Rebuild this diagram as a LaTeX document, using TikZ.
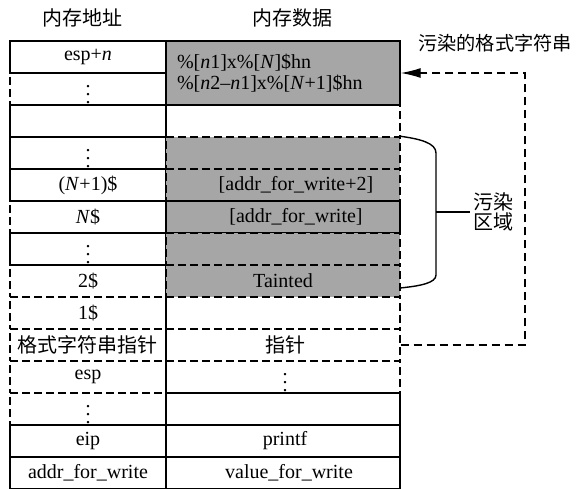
\documentclass[tikz,border=0pt]{standalone}
\usepackage{fontspec}
\setmainfont{Liberation Serif}
\newfontfamily\cjk{Noto Sans CJK SC}
\usetikzlibrary{arrows.meta}

\begin{document}
\begin{tikzpicture}[
    x=0.5pt, y=0.5pt,
    addr/.style={draw, line width=0.7pt, minimum width=78pt, minimum height=16pt, inner sep=0pt},
    data/.style={draw, line width=0.7pt, minimum width=117pt, minimum height=16pt, inner sep=0pt},
    broken/.style={dash pattern=on 4pt off 2pt},
    taint/.style={fill=black!35},
    link/.style={line width=0.7pt, dash pattern=on 4pt off 2.5pt, -{Latex[length=10pt, width=5pt]}}
]
\useasboundingbox (0, 0) rectangle (577, 488);

% Headers
\node[font=\cjk] (haddr) at (82, 470) {内存地址};
\node[font=\cjk] (hdata) at (292, 470) {内存数据};
\node[font=\cjk\fontsize{9.6pt}{12pt}\selectfont] (title) at (495, 445) {污染的格式字符串};

% Address column
\node[addr] (a0) at (88, 431) {esp+\textit{n}};
\node[addr, broken] (a1) at (88, 399) {$\vdots$};
\node[addr] (a2) at (88, 367) {};
\node[addr] (a3) at (88, 335) {$\vdots$};
\node[addr] (a4) at (88, 303) {(\textit{N}+1)\$};
\node[addr, broken] (a5) at (88, 271) {\textit{N}\$};
\node[addr] (a6) at (88, 239) {$\vdots$};
\node[addr, broken] (a7) at (88, 207) {2\$};
\node[addr, broken] (a8) at (88, 175) {1\$};
\node[addr, broken, font=\cjk] (a9) at (88, 143) {格式字符串指针};
\node[addr, broken] (a10) at (88, 111) {esp};
\node[addr, broken] (a11) at (88, 79) {$\vdots$};
\node[addr] (a12) at (88, 47) {eip};
\node[addr] (a13) at (88, 15) {addr\_for\_write};

% Data column
\node[data, taint, minimum height=32pt, align=left, inner xsep=5.5pt, text width=106pt] (d0) at (283, 415)
    {\%[\textit{n}1]x\%[\textit{N}]\$hn\\[-1.5pt]\%[\textit{n}2--\textit{n}1]x\%[\textit{N}+1]\$hn};
\node[data, broken] (d2) at (283, 367) {};
\node[data, broken, taint] (d3) at (283, 335) {};
\node[data, broken, taint] (d4) at (283, 303) {\hspace*{13pt}[addr\_for\_write+2]};
\node[data, taint] (d5) at (283, 271) {\hspace*{13pt}[addr\_for\_write]};
\node[data, broken, taint] (d6) at (283, 239) {};
\node[data, broken, taint] (d7) at (283, 207) {Tainted};
\node[data, broken] (d8) at (283, 175) {};
\node[data, broken, font=\cjk] (d9) at (283, 143) {\hspace*{2pt}指针};
\node[data, broken] (d10) at (283, 111) {\hspace*{2pt}$\vdots$};
\node[data] (d11) at (283, 79) {};
\node[data] (d12) at (283, 47) {\hspace*{2pt}printf};
\node[data] (d13) at (283, 15) {\hspace*{6pt}value\_for\_write};

% Tainted region
\node[font=\cjk, align=center, inner sep=1.5pt] (region) at (493, 276) {污染\\[-2pt]区域};
\coordinate (brace) at (436, 276);
\draw[line width=0.7pt] (d3.north east) .. controls (420, 349) and (436, 345) .. (436, 335)
    -- (436, 213) .. controls (436, 205) and (420, 202) .. (400, 200);
\draw[line width=0.7pt] (brace) -- (region.west);

% Pointer back to the format string
\coordinate (turn) at (525, 143);
\draw[link] (d9.east) -- (turn) |- (d0.east);

\end{tikzpicture}
\end{document}
